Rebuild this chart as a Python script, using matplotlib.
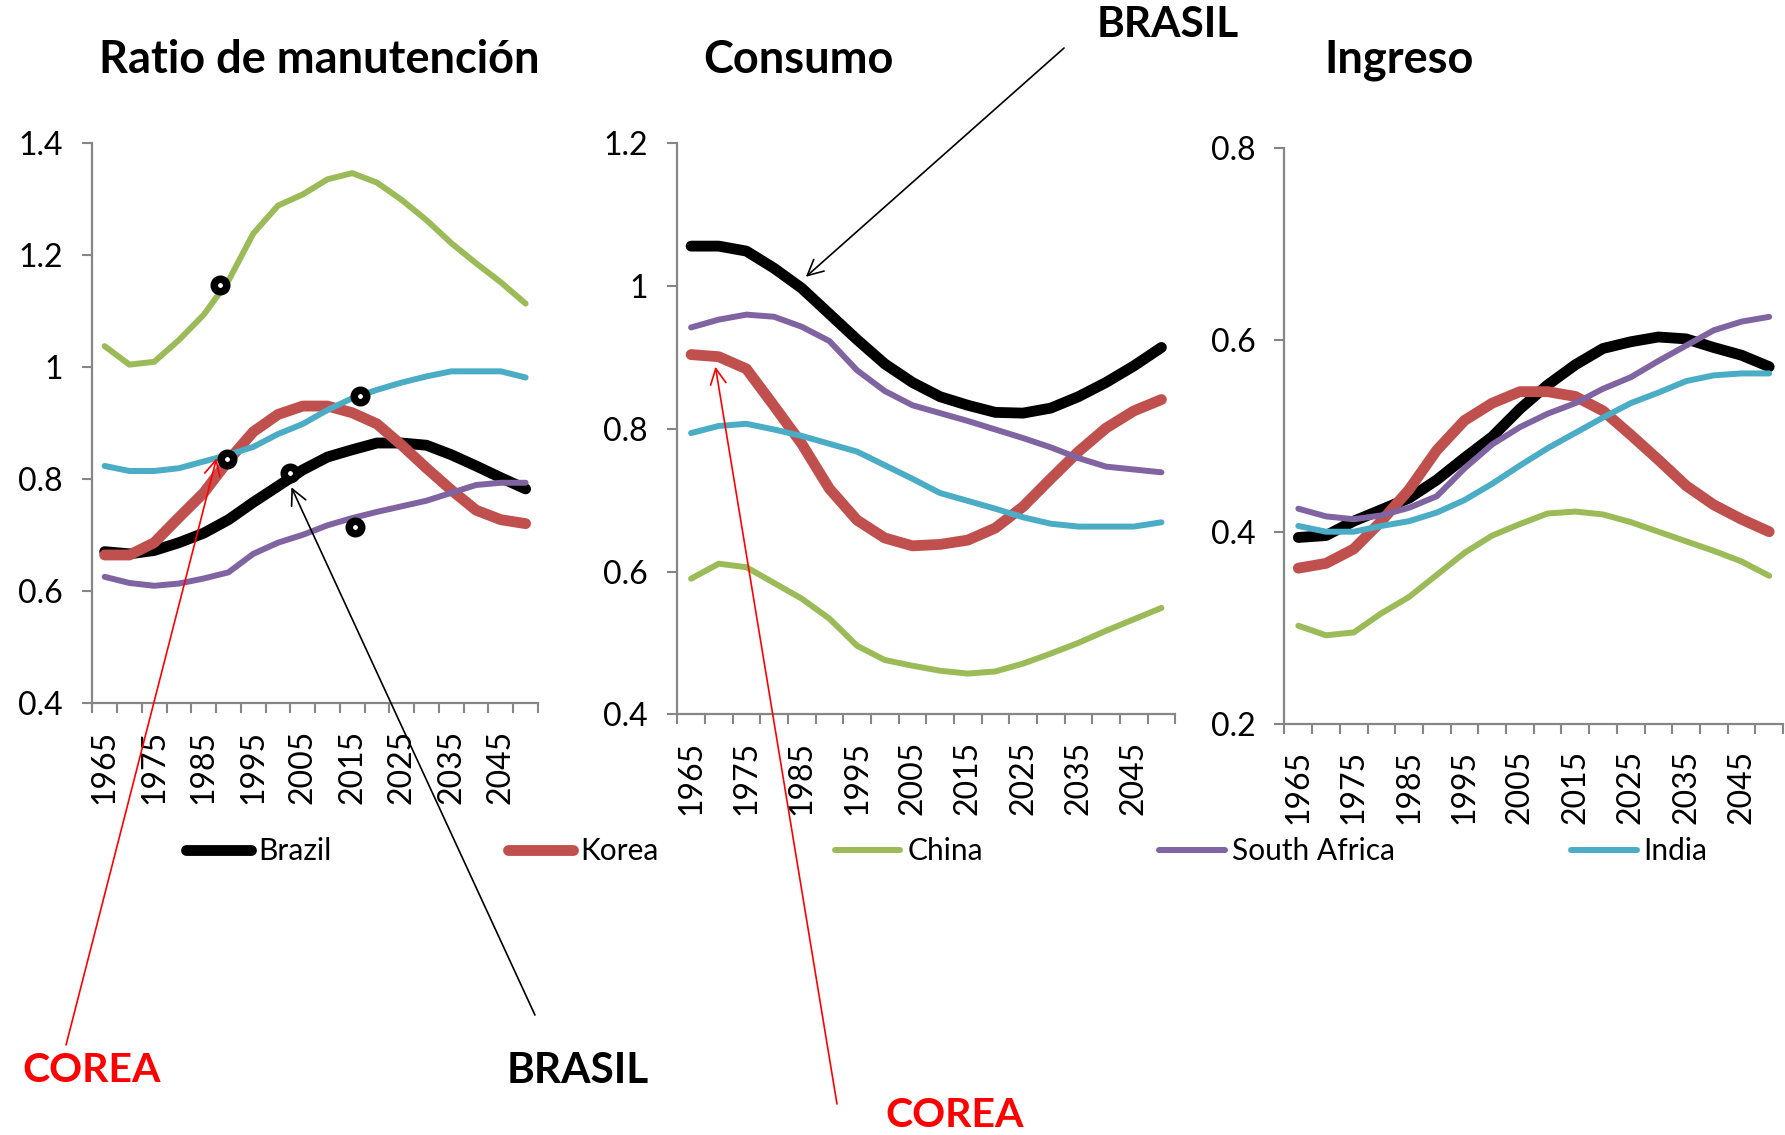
import matplotlib
matplotlib.use("Agg")
import matplotlib.pyplot as plt
import numpy as np

plt.rcParams["font.family"] = ["Lato", "DejaVu Sans"]

# categories (5-year steps), labels shown every other one
years = list(range(1965, 2051, 5))
countries = ["Brazil", "Korea", "China", "South Africa", "India"]
colors = ["#000000", "#C0504D", "#9BBB59", "#8064A2", "#4BACC6"]
widths = [7.8, 7.8, 4.3, 4.3, 4.3]

# Ratio de manutencion
ratio_brazil = [0.671, 0.667, 0.673, 0.687, 0.704, 0.728, 0.759, 0.788, 0.817,
                0.840, 0.853, 0.865, 0.865, 0.861, 0.844, 0.824, 0.803, 0.783]
ratio_korea = [0.665, 0.665, 0.687, 0.732, 0.776, 0.834, 0.885, 0.916, 0.931,
               0.931, 0.919, 0.899, 0.861, 0.820, 0.781, 0.745, 0.728, 0.721]
ratio_china = [1.038, 1.005, 1.010, 1.049, 1.094, 1.155, 1.239, 1.289, 1.309,
               1.336, 1.347, 1.330, 1.299, 1.263, 1.222, 1.186, 1.152, 1.114]
ratio_safrica = [0.626, 0.615, 0.610, 0.614, 0.623, 0.634, 0.667, 0.687, 0.701,
                 0.718, 0.731, 0.742, 0.752, 0.762, 0.776, 0.790, 0.794, 0.794]
ratio_india = [0.824, 0.815, 0.815, 0.820, 0.832, 0.844, 0.858, 0.881, 0.899,
               0.924, 0.945, 0.960, 0.973, 0.984, 0.993, 0.993, 0.993, 0.982]

# Consumo
cons_brazil = [1.056, 1.056, 1.049, 1.025, 0.997, 0.961, 0.925, 0.891, 0.865,
               0.845, 0.833, 0.823, 0.822, 0.829, 0.845, 0.865, 0.888, 0.914]
cons_korea = [0.904, 0.901, 0.884, 0.832, 0.779, 0.716, 0.672, 0.647, 0.636,
              0.638, 0.644, 0.661, 0.691, 0.730, 0.768, 0.801, 0.825, 0.841]
cons_china = [0.590, 0.611, 0.606, 0.584, 0.562, 0.534, 0.496, 0.476, 0.468,
              0.461, 0.457, 0.460, 0.471, 0.485, 0.500, 0.517, 0.533, 0.549]
cons_safrica = [0.942, 0.953, 0.960, 0.957, 0.943, 0.923, 0.882, 0.853, 0.833,
                0.822, 0.811, 0.799, 0.787, 0.774, 0.759, 0.747, 0.743, 0.739]
cons_india = [0.794, 0.804, 0.807, 0.799, 0.790, 0.779, 0.768, 0.749, 0.730,
              0.710, 0.699, 0.688, 0.676, 0.667, 0.663, 0.663, 0.663, 0.669]

# Ingreso
inc_brazil = [0.394, 0.396, 0.411, 0.423, 0.435, 0.454, 0.477, 0.499, 0.528,
              0.553, 0.574, 0.591, 0.598, 0.603, 0.601, 0.592, 0.584, 0.572]
inc_korea = [0.362, 0.367, 0.382, 0.411, 0.444, 0.485, 0.516, 0.534, 0.546,
             0.546, 0.541, 0.526, 0.501, 0.475, 0.448, 0.428, 0.413, 0.400]
inc_china = [0.302, 0.292, 0.295, 0.315, 0.332, 0.355, 0.378, 0.396, 0.408,
             0.419, 0.421, 0.418, 0.410, 0.400, 0.390, 0.380, 0.369, 0.354]
inc_safrica = [0.424, 0.416, 0.413, 0.417, 0.425, 0.437, 0.466, 0.491, 0.509,
               0.523, 0.534, 0.549, 0.561, 0.578, 0.594, 0.610, 0.619, 0.624]
inc_india = [0.406, 0.400, 0.400, 0.406, 0.411, 0.420, 0.433, 0.450, 0.469,
             0.487, 0.503, 0.519, 0.534, 0.545, 0.557, 0.563, 0.565, 0.565]

# hand-drawn ring markers on the first panel (category index, value)
ring_x = [4.65, 4.94, 7.47, 10.32, 10.12]
ring_y = [1.147, 0.837, 0.811, 0.949, 0.715]

AXIS_GREY = "#868686"
TICK_SIZE = 23


def draw_panel(ax, series, ylim, step):
    x = np.arange(len(years))
    for vals, c, lw, name in zip(series, colors, widths, countries):
        ax.plot(x, vals, color=c, lw=lw, label=name,
                solid_capstyle="round", solid_joinstyle="round")
    ax.set_xlim(-0.5, len(years) - 0.5)
    ax.set_ylim(*ylim)

    ax.set_xticks(x[::2])
    ax.set_xticklabels([str(y) for y in years[::2]], rotation=90)
    ax.set_xticks(np.arange(-0.5, len(years), 1), minor=True)
    ax.tick_params(axis="x", which="major", length=0, pad=19, labelsize=TICK_SIZE)
    ax.tick_params(axis="x", which="minor", length=7, width=1.5, color=AXIS_GREY)

    yt = np.round(np.arange(ylim[0], ylim[1] + 1e-9, step), 2)
    ax.set_yticks(yt)
    ax.set_yticklabels([f"{v:g}" for v in yt])
    ax.tick_params(axis="y", length=7, width=1.5, color=AXIS_GREY, pad=14,
                   labelsize=TICK_SIZE)

    for side in ("top", "right"):
        ax.spines[side].set_visible(False)
    for side in ("left", "bottom"):
        ax.spines[side].set_color(AXIS_GREY)
        ax.spines[side].set_linewidth(1.6)
    ax.patch.set_alpha(0)


fig = plt.figure(figsize=(17.85, 11.35), dpi=100)
fig.patch.set_facecolor("white")

ax1 = fig.add_axes([0.0517, 0.3803, 0.2497, 0.4933])
ax2 = fig.add_axes([0.3794, 0.3707, 0.2790, 0.5030])
ax3 = fig.add_axes([0.7196, 0.3625, 0.2793, 0.5071])

draw_panel(ax1, [ratio_brazil, ratio_korea, ratio_china, ratio_safrica, ratio_india],
           (0.4, 1.4), 0.2)
draw_panel(ax2, [cons_brazil, cons_korea, cons_china, cons_safrica, cons_india],
           (0.4, 1.2), 0.2)
draw_panel(ax3, [inc_brazil, inc_korea, inc_china, inc_safrica, inc_india],
           (0.2, 0.8), 0.2)

ax1.plot(ring_x, ring_y, ls="none", marker="o", ms=9, mfc="white",
         mec="black", mew=5.4, zorder=6)

# panel titles
title_kw = dict(fontsize=32.5, fontweight="bold", ha="center", va="center")
fig.text(0.1787, 0.947, "Ratio de manutención", **title_kw)
fig.text(0.4471, 0.947, "Consumo", **title_kw)
fig.text(0.7838, 0.947, "Ingreso", **title_kw)

# legend
handles, labels = ax1.get_legend_handles_labels()
fig.legend(handles, labels, loc="center left", bbox_to_anchor=(0.104, 0.2502),
           ncol=5, frameon=False, fontsize=21.5, handlelength=2.2,
           handletextpad=0.23, columnspacing=5.9, borderpad=0, borderaxespad=0)

# call-outs
brasil_kw = dict(fontsize=30.5, fontweight="bold", ha="center", va="center")
corea_kw = dict(fontsize=29.5, fontweight="bold", ha="center", va="center")
arrow = dict(arrowstyle="->", lw=1.2, shrinkA=0, shrinkB=0, mutation_scale=28)

ax2.annotate("", xy=(4.15, 1.013), xycoords="data",
             xytext=(0.5961, 0.9577), textcoords="figure fraction",
             arrowprops=dict(arrow, color="black"), annotation_clip=False)
fig.text(0.6543, 0.978, "BRASIL", color="black", **brasil_kw)

ax1.annotate("", xy=(4.52, 0.838), xycoords="data",
             xytext=(0.0370, 0.0793), textcoords="figure fraction",
             arrowprops=dict(arrow, color="red"), annotation_clip=False)
fig.text(0.0515, 0.0564, "COREA", color="red", **corea_kw)

ax1.annotate("", xy=(7.54, 0.786), xycoords="data",
             xytext=(0.2997, 0.1057), textcoords="figure fraction",
             arrowprops=dict(arrow, color="black"), annotation_clip=False)
fig.text(0.3238, 0.0564, "BRASIL", color="black", **brasil_kw)

ax2.annotate("", xy=(0.88, 0.887), xycoords="data",
             xytext=(0.4689, 0.0273), textcoords="figure fraction",
             arrowprops=dict(arrow, color="red"), annotation_clip=False)
fig.text(0.5350, 0.0176, "COREA", color="red", **corea_kw)

fig.savefig("out.png", dpi=100, facecolor="white")
plt.close(fig)
